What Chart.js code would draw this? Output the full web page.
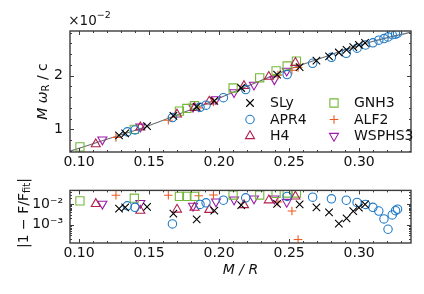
<!DOCTYPE html>
<html>
<head>
<meta charset="utf-8">
<script src="https://cdn.jsdelivr.net/npm/chart.js@4/dist/chart.umd.min.js"></script>
<style>
  html, body { margin: 0; padding: 0; background: #fff; }
  #wrap { position: relative; width: 424px; height: 294px; }
  canvas { position: absolute; left: 0; }
  #topChart { top: 0; }
  #botChart { top: 175px; }
</style>
</head>
<body>
<div id="wrap">
  <canvas id="topChart" width="424" height="175"></canvas>
  <canvas id="botChart" width="424" height="119"></canvas>
</div>
<script>
// ── Data ──────────────────────────────────────────────────
const xTicks    = [0.10, 0.15, 0.20, 0.25, 0.30];
const freqTicks = [1, 2];
const resTicks  = [1e-3, 1e-2];

const fitX = [0.0936, 0.11, 0.13, 0.15, 0.17, 0.19, 0.21, 0.23, 0.25, 0.27, 0.29, 0.31, 0.337];
const fitY = [0.595, 0.735, 0.90, 1.07, 1.27, 1.47, 1.69, 1.91, 2.12, 2.30, 2.48, 2.64, 2.81];

const slyX   = [0.1286, 0.1330, 0.1486, 0.1674, 0.1840, 0.1966, 0.2158, 0.2414, 0.2575, 0.2695, 0.2785, 0.2855, 0.2910, 0.2958, 0.2998, 0.3042];
const slyF   = [0.89, 0.925, 1.06, 1.25, 1.42, 1.53, 1.77, 2.02, 2.16, 2.28, 2.36, 2.43, 2.48, 2.53, 2.57, 2.61];
const slyRes = [0.0062, 0.0072, 0.0076, 0.0035, 0.0018, 0.0049, 0.0093, 0.0107, 0.0100, 0.0072, 0.0040, 0.0011, 0.0020, 0.0047, 0.0069, 0.0100];

const apr4X   = [0.1345, 0.1400, 0.1667, 0.1864, 0.1907, 0.2031, 0.2190, 0.2486, 0.2668, 0.2802, 0.2908, 0.2985, 0.3046, 0.3098, 0.3140, 0.3177, 0.3206, 0.3236, 0.3260, 0.3274];
const apr4F   = [0.955, 0.99, 1.22, 1.41, 1.45, 1.59, 1.74, 2.02, 2.23, 2.34, 2.415, 2.51, 2.57, 2.61, 2.66, 2.69, 2.72, 2.76, 2.77, 2.79];
const apr4Res = [0.0085, 0.0072, 0.00107, 0.0100, 0.0120, 0.0162, 0.0214, 0.0251, 0.0229, 0.0191, 0.0162, 0.0126, 0.0100, 0.0072, 0.0047, 0.0019, 0.00058, 0.0030, 0.0049, 0.0058];

const h4X   = [0.112, 0.1438, 0.170, 0.1825, 0.193, 0.2178, 0.2355, 0.2545];
const h4F   = [0.726, 1.04, 1.28, 1.40, 1.52, 1.81, 1.98, 2.24];
const h4Res = [0.0107, 0.0049, 0.0056, 0.0069, 0.0054, 0.0093, 0.0162, 0.0251];

const gnh3X   = [0.1007, 0.1395, 0.1717, 0.1770, 0.1824, 0.2100, 0.2290, 0.2407, 0.2486, 0.2552];
const gnh3F   = [0.676, 1.00, 1.34, 1.39, 1.44, 1.77, 1.96, 2.09, 2.18, 2.27];
const gnh3Res = [0.0151, 0.0204, 0.0251, 0.0251, 0.0251, 0.0295, 0.0295, 0.0355, 0.0372, 0.0372];

const alf2X   = [0.1264, 0.1638, 0.1855, 0.1960, 0.2420, 0.2520, 0.2564];
const alf2F   = [0.85, 1.17, 1.40, 1.51, 2.01, 2.10, 2.15];
const alf2Res = [0.0288, 0.0288, 0.0269, 0.0295, 0.0132, 0.0047, 0.00018];

const wsX   = [0.1167, 0.1438, 0.1814, 0.1978, 0.2107, 0.2249, 0.2395, 0.2483];
const wsF   = [0.81, 1.05, 1.42, 1.56, 1.69, 1.83, 1.93, 2.09];
const wsRes = [0.0107, 0.0117, 0.0085, 0.0138, 0.0174, 0.0195, 0.0195, 0.0132];

// ── Styles ────────────────────────────────────────────────
const FONT = "'DejaVu Sans', sans-serif";
const INK  = '#111';
const EDGE = '#3c3c3c';

const eosList = [
  { name: 'SLy',    x: slyX,  f: slyF,  r: slyRes,  color: '#000000', style: 'crossRot', radius: 5.3, rot: 0 },
  { name: 'APR4',   x: apr4X, f: apr4F, r: apr4Res, color: '#1f7ac8', style: 'circle',   radius: 4.2, rot: 0 },
  { name: 'H4',     x: h4X,   f: h4F,   r: h4Res,   color: '#b0204e', style: 'triangle', radius: 5.2, rot: 0 },
  { name: 'GNH3',   x: gnh3X, f: gnh3F, r: gnh3Res, color: '#74b83a', style: 'rect',     radius: 5.8, rot: 0 },
  { name: 'ALF2',   x: alf2X, f: alf2F, r: alf2Res, color: '#ef5a22', style: 'cross',    radius: 4.3, rot: 0 },
  { name: 'WSPHS3', x: wsX,   f: wsF,   r: wsRes,   color: '#9b1ba8', style: 'triangle', radius: 5.2, rot: 180 },
];

const xMin = 0.0936, xMax = 0.337;

const pts = (xs, ys) => xs.map((x, i) => ({ x, y: ys[i] }));

const eosDataset = (e, ys) => ({
  label: e.name,
  data: pts(e.x, ys),
  showLine: false,
  pointStyle: e.style,
  pointRotation: e.rot,
  pointRadius: e.radius,
  pointBorderWidth: 1.1,
  pointBorderColor: e.color,
  pointBackgroundColor: 'rgba(0,0,0,0)',
});

// ── Frame + inward ticks on all four sides ────────────────
const framePlugin = {
  id: 'frame',
  afterDatasetsDraw(chart, args, o) {
    const { ctx, chartArea: a, scales } = chart;
    ctx.save();
    ctx.strokeStyle = EDGE;
    ctx.lineWidth = 1;
    const seg = (x1, y1, x2, y2) => { ctx.beginPath(); ctx.moveTo(x1, y1); ctx.lineTo(x2, y2); ctx.stroke(); };
    const xt = (vals, len) => vals.forEach(v => {
      const p = Math.round(scales.x.getPixelForValue(v)) + 0.5;
      if (p < a.left || p > a.right) return;
      seg(p, a.bottom, p, a.bottom - len);
      seg(p, a.top, p, a.top + len);
    });
    const yt = (vals, len) => vals.forEach(v => {
      const p = Math.round(scales.y.getPixelForValue(v)) + 0.5;
      if (p < a.top || p > a.bottom) return;
      seg(a.left, p, a.left + len, p);
      seg(a.right, p, a.right - len, p);
    });
    xt(o.xMinor, 2); xt(o.xMajor, 4);
    yt(o.yMinor, 2); yt(o.yMajor, 4);
    ctx.lineWidth = 1.4;
    ctx.strokeRect(a.left, a.top, a.right - a.left, a.bottom - a.top);
    ctx.restore();
  },
};

// text made of runs: [text, font, dy]
function drawRuns(ctx, runs, cx, cy, angle) {
  ctx.save();
  ctx.translate(cx, cy);
  ctx.rotate(angle || 0);
  ctx.fillStyle = INK;
  ctx.textBaseline = 'middle';
  ctx.textAlign = 'left';
  let w = 0;
  runs.forEach(r => { ctx.font = r[1]; w += ctx.measureText(r[0]).width; });
  let x = -w / 2;
  runs.forEach(r => { ctx.font = r[1]; ctx.fillText(r[0], x, r[2] || 0); x += ctx.measureText(r[0]).width; });
  ctx.restore();
}

const labelsPlugin = {
  id: 'labels',
  afterDraw(chart, args, o) {
    const ctx = chart.ctx;
    (o.items || []).forEach(it => drawRuns(ctx, it.runs, it.x, it.y, it.angle));
  },
};

const legendPlugin = {
  id: 'eosLegend',
  afterDraw(chart, args, o) {
    if (!o.show) return;
    const ctx = chart.ctx;
    const colX = [250, 334], rowY = [103, 119.5, 136];
    eosList.forEach((e, i) => {
      const cx = colX[Math.floor(i / 3)], cy = rowY[i % 3];
      ctx.save();
      ctx.strokeStyle = e.color;
      ctx.fillStyle = 'rgba(0,0,0,0)';
      ctx.lineWidth = 1.1;
      Chart.helpers.drawPoint(ctx, { pointStyle: e.style, rotation: e.rot, radius: e.radius, borderWidth: 1.1 }, cx, cy);
      ctx.fillStyle = INK;
      ctx.font = `14px ${FONT}`;
      ctx.textBaseline = 'middle';
      ctx.fillText(e.name, cx + 20, cy + 0.5);
      ctx.restore();
    });
  },
};

const xMinor = [];
for (let v = 0.10; v < 0.34; v += 0.01) xMinor.push(+v.toFixed(2));
const fMinor = [];
for (let v = 0.6; v < 2.84; v += 0.2) fMinor.push(+v.toFixed(1));
const rMinor = [];
[1e-4, 1e-3, 1e-2].forEach(d => { for (let k = 2; k <= 9; k++) rMinor.push(d * k); });

const tickFont = { family: FONT, size: 14 };

const xAxis = (h) => ({
  type: 'linear', min: xMin, max: xMax,
  grid: { display: false, drawTicks: false },
  border: { display: false },
  afterBuildTicks: s => { s.ticks = xTicks.map(v => ({ value: v })); },
  afterFit: s => { s.height = h; },
  ticks: { color: INK, font: tickFont, padding: 2, maxRotation: 0, autoSkip: false,
           callback: v => v.toFixed(2) },
});

// ── Top panel ─────────────────────────────────────────────
new Chart(document.getElementById('topChart'), {
  type: 'scatter',
  data: {
    datasets: [
      ...eosList.map(e => eosDataset(e, e.f)),
      { label: 'fit', data: pts(fitX, fitY), showLine: true, pointRadius: 0,
        borderColor: '#6e6e6e', borderWidth: 1.1, tension: 0.3 },
    ],
  },
  options: {
    responsive: false, animation: false, events: [],
    layout: { padding: { left: 0, right: 13, top: 31, bottom: 0 } },
    plugins: {
      legend: { display: false }, tooltip: { enabled: false },
      frame: { xMajor: xTicks, xMinor, yMajor: freqTicks, yMinor: fMinor },
      eosLegend: { show: true },
      labels: { items: [
        { x: 43, y: 91.5, angle: -Math.PI / 2, runs: [
          ['M', `italic 14px ${FONT}`], [' ', `14px ${FONT}`], ['ω', `italic 14px ${FONT}`],
          ['R', `10px ${FONT}`, 3.5], [' / c', `14px ${FONT}`] ] },
        { x: 89.5, y: 21, runs: [ ['×10', `13.5px ${FONT}`], ['−2', `9.5px ${FONT}`, -5] ] },
      ] },
    },
    scales: {
      x: xAxis(175 - 152),
      y: {
        type: 'linear', min: 0.58, max: 2.83,
        grid: { display: false, drawTicks: false },
        border: { display: false },
        afterBuildTicks: s => { s.ticks = freqTicks.map(v => ({ value: v })); },
        afterFit: s => { s.width = 70; },
        ticks: { color: INK, font: tickFont, padding: 7, callback: v => String(v) },
      },
    },
  },
  plugins: [framePlugin, legendPlugin, labelsPlugin],
});

// ── Bottom panel (residuals) ──────────────────────────────
const sup = { '-': '⁻', '0': '⁰', '1': '¹', '2': '²', '3': '³', '4': '⁴' };

new Chart(document.getElementById('botChart'), {
  type: 'scatter',
  data: { datasets: eosList.map(e => eosDataset(e, e.r)) },
  options: {
    responsive: false, animation: false, events: [],
    layout: { padding: { left: 0, right: 13, top: 8, bottom: 0 } },
    plugins: {
      legend: { display: false }, tooltip: { enabled: false },
      frame: { xMajor: xTicks, xMinor, yMajor: resTicks, yMinor: rMinor },
      labels: { items: [
        { x: 24, y: 38, angle: -Math.PI / 2, runs: [
          ['|1 − F/F', `14px ${FONT}`], ['fit', `10px ${FONT}`, 3.5], ['|', `14px ${FONT}`] ] },
        { x: 240.5, y: 95, runs: [ ['M / R', `italic 14px ${FONT}`] ] },
      ] },
    },
    scales: {
      x: xAxis(119 - 68),
      y: {
        type: 'logarithmic', min: 1.2e-4, max: 0.05,
        grid: { display: false, drawTicks: false },
        border: { display: false },
        afterBuildTicks: s => { s.ticks = resTicks.map(v => ({ value: v })); },
        afterFit: s => { s.width = 70; },
        ticks: { color: INK, font: tickFont, padding: 7,
                 callback: v => '10' + String(Math.round(Math.log10(v))).split('').map(c => sup[c]).join('') },
      },
    },
  },
  plugins: [framePlugin, labelsPlugin],
});
</script>
</body>
</html>
